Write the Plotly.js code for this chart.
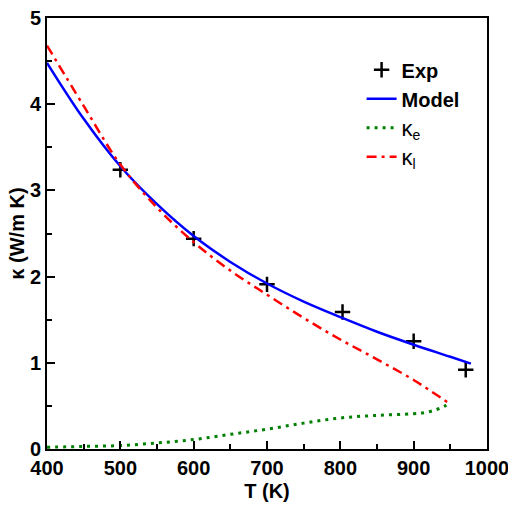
<!DOCTYPE html>
<html>
<head>
<meta charset="utf-8">
<script src="https://cdn.plot.ly/plotly-3.0.1.min.js"></script>
<style>html,body{margin:0;padding:0;background:#fff;}#chart{width:508px;height:507px;}</style>
</head>
<body>
<div id="chart"></div>
<script>
// Experimental points
const expT = [500, 600, 700, 803, 900, 971];
const expK = [3.24, 2.44, 1.91, 1.59, 1.25, 0.92];
// Model (total)
const modelT = [400, 450, 500, 550, 600, 650, 700, 750, 800, 850, 900, 950, 978];
const modelK = [4.48, 3.83, 3.28, 2.84, 2.47, 2.17, 1.92, 1.71, 1.53, 1.36, 1.21, 1.07, 0.99];
// Electronic contribution
const keT = [400, 450, 500, 550, 600, 650, 700, 750, 800, 850, 900, 920, 935, 950];
const keK = [0.02, 0.03, 0.04, 0.07, 0.11, 0.17, 0.23, 0.30, 0.36, 0.39, 0.41, 0.43, 0.47, 0.53];
// Lattice contribution
const klT = [400, 450, 500, 550, 600, 650, 700, 750, 800, 850, 900, 950];
const klK = [4.68, 3.98, 3.30, 2.80, 2.40, 2.07, 1.79, 1.52, 1.27, 1.04, 0.80, 0.52];

const F = "'Liberation Sans', Arial, sans-serif";

const traces = [
  {x: expT, y: expK, mode: 'markers', name: '<b>Exp</b>',
   marker: {symbol: 'cross-thin', size: 11, color: '#000', line: {color: '#000', width: 2.5}}},
  {x: modelT, y: modelK, mode: 'lines', name: '<b>Model</b>',
   line: {color: '#0000ff', width: 2.5, shape: 'spline'}},
  {x: keT, y: keK, mode: 'lines', name: '<span style="font-size:22px">κ</span><sub>e</sub>',
   line: {color: '#008000', width: 3, dash: '3px,5px', shape: 'spline'}},
  {x: klT, y: klK, mode: 'lines', name: '<span style="font-size:22px">κ</span><sub>l</sub>',
   line: {color: '#ff0000', width: 2.5, dash: '10px,5px,3px,5px', shape: 'spline'}}
];

const axisCommon = {
  showline: true, linecolor: '#000', linewidth: 2, mirror: true,
  ticks: 'inside', ticklen: 8, tickwidth: 2, tickcolor: '#000',
  showgrid: false, zeroline: false, ticklabeloverflow: 'allow',
  tickfont: {family: F, size: 20, color: '#000', weight: 'bold'}
};

const layout = {
  width: 508, height: 507,
  margin: {l: 47, r: 21, t: 18, b: 58},
  paper_bgcolor: '#fff', plot_bgcolor: '#fff',
  showlegend: true,
  legend: {x: 0.715, y: 0.925, xanchor: 'left', yanchor: 'top',
    bgcolor: 'rgba(0,0,0,0)', borderwidth: 0,
    font: {family: F, size: 20, color: '#000'}, tracegroupgap: 2},
  xaxis: Object.assign({}, axisCommon, {
    range: [400, 1000], tickvals: [400, 500, 600, 700, 800, 900, 1000],
    minor: {dtick: 50, ticks: 'inside', ticklen: 5, tickwidth: 2, tickcolor: '#000', showgrid: false},
    title: {text: 'T (K)', font: {family: F, size: 20, color: '#000', weight: 'bold'}, standoff: 6}
  }),
  yaxis: Object.assign({}, axisCommon, {
    range: [0, 5], dtick: 1,
    minor: {dtick: 0.5, ticks: 'inside', ticklen: 5, tickwidth: 2, tickcolor: '#000', showgrid: false},
    title: {text: 'κ (W/m K)', font: {family: F, size: 20, color: '#000', weight: 'bold'}, standoff: 0}
  })
};

Plotly.newPlot('chart', traces, layout, {displayModeBar: false, staticPlot: true});
</script>
</body>
</html>
